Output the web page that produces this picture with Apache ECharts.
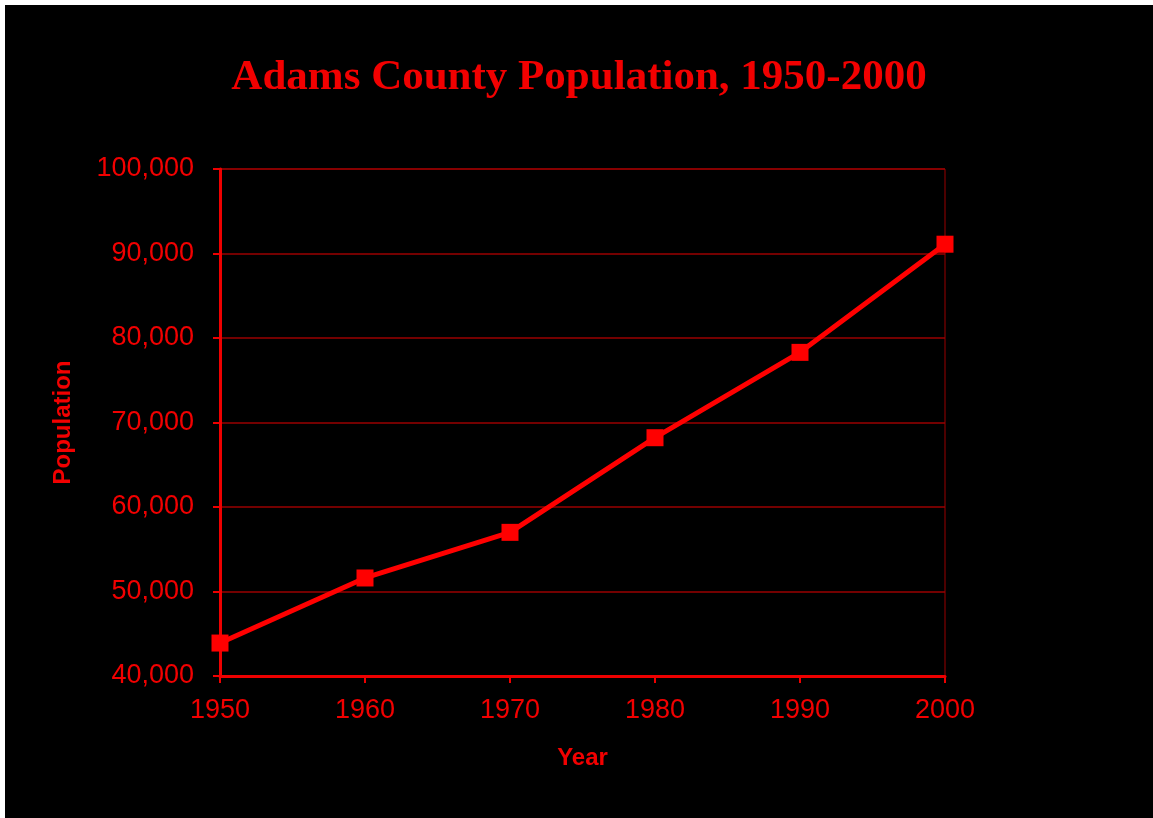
<!DOCTYPE html>
<html>
<head>
<meta charset="utf-8">
<script src="https://cdn.jsdelivr.net/npm/echarts@6/dist/echarts.min.js"></script>
<style>
  html, body { margin: 0; padding: 0; background: #ffffff; width: 1153px; height: 818px; overflow: hidden; }
  #chart { position: absolute; left: 5px; top: 5px; width: 1148px; height: 813px; background: #000000; }
</style>
</head>
<body>
<div id="chart"></div>
<script>
const titleText = 'Adams County Population, 1950-2000';
const years = ['1950', '1960', '1970', '1980', '1990', '2000'];
const population = [43900, 51600, 57000, 68200, 78300, 91100];
const yMin = 40000;
const yMax = 100000;
const yStep = 10000;

const red = '#f20000';
const chart = echarts.init(document.getElementById('chart'));
chart.setOption({
  backgroundColor: '#000000',
  animation: false,
  title: {
    text: titleText,
    left: 'center',
    top: 46,
    textStyle: { color: red, fontFamily: 'Liberation Serif', fontWeight: 'bold', fontSize: 43 }
  },
  grid: {
    left: 215, right: 208, top: 164, bottom: 142,
    show: true, borderColor: '#9a0000', borderWidth: 1, backgroundColor: 'transparent'
  },
  xAxis: {
    type: 'category',
    data: years,
    boundaryGap: false,
    name: 'Year',
    nameLocation: 'middle',
    nameGap: 70,
    nameTextStyle: { color: red, fontFamily: 'Liberation Sans', fontWeight: 'bold', fontSize: 24 },
    axisLine: { lineStyle: { color: '#ee0000', width: 3 } },
    axisTick: { show: true, alignWithLabel: true, length: 7, lineStyle: { color: '#ee0000', width: 2 } },
    axisLabel: { color: red, fontFamily: 'Liberation Sans', fontSize: 27, margin: 21 },
    splitLine: { show: false }
  },
  yAxis: {
    type: 'value',
    min: yMin, max: yMax, interval: yStep,
    name: 'Population',
    nameLocation: 'middle',
    nameGap: 145,
    nameTextStyle: { color: red, fontFamily: 'Liberation Sans', fontWeight: 'bold', fontSize: 24 },
    axisLine: { show: true, lineStyle: { color: '#ee0000', width: 3 } },
    axisTick: { show: true, length: 7, lineStyle: { color: '#ee0000', width: 2 } },
    axisLabel: {
      color: red, fontFamily: 'Liberation Sans', fontSize: 27, margin: 26,
      formatter: v => v.toLocaleString('en-US')
    },
    splitLine: { show: true, lineStyle: { color: '#9a0000', width: 1.5 } }
  },
  series: [{
    type: 'line',
    data: population,
    symbol: 'rect',
    symbolSize: 17,
    lineStyle: { color: '#ff0000', width: 5 },
    itemStyle: { color: '#ff0000' },
    z: 5
  }]
});
</script>
</body>
</html>
